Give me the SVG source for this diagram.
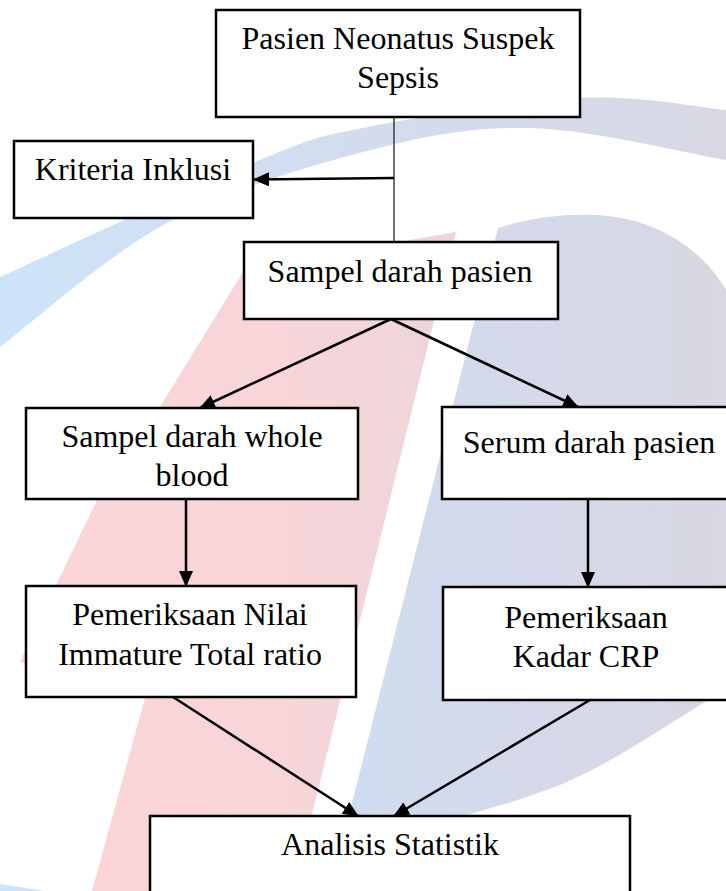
<svg xmlns="http://www.w3.org/2000/svg" width="726" height="891" viewBox="0 0 726 891">
  <defs>
    <linearGradient id="gArc" gradientUnits="userSpaceOnUse" x1="0" y1="0" x2="726" y2="0">
      <stop offset="0" stop-color="#cde4f8"/>
      <stop offset="0.5" stop-color="#d3dcef"/>
      <stop offset="1" stop-color="#d8d8e4"/>
    </linearGradient>
    <linearGradient id="gPink" gradientUnits="userSpaceOnUse" x1="20" y1="0" x2="456" y2="0">
      <stop offset="0" stop-color="#fcd6d8"/>
      <stop offset="0.6" stop-color="#f7d5d8"/>
      <stop offset="1" stop-color="#edd5da"/>
    </linearGradient>
    <linearGradient id="gGrey" gradientUnits="userSpaceOnUse" x1="350" y1="0" x2="726" y2="0">
      <stop offset="0" stop-color="#cfdcf0"/>
      <stop offset="0.5" stop-color="#d5d9e9"/>
      <stop offset="1" stop-color="#d8d7e3"/>
    </linearGradient>
    <marker id="arrow" markerUnits="userSpaceOnUse" markerWidth="16" markerHeight="14" refX="15" refY="7" orient="auto">
      <path d="M0,0 L16,7 L0,14 z" fill="#000"/>
    </marker>
    <style>
      .box { fill: #ffffff; stroke: #000000; stroke-width: 2.5; }
      text { font-family: "Liberation Serif", "DejaVu Serif", serif; font-size: 32px; fill: #000000; text-anchor: middle; }
      .conn { stroke: #000000; stroke-width: 2.5; fill: none; }
      .thin { stroke: #333333; stroke-width: 1.4; fill: none; }
    </style>
  </defs>

  <rect x="0" y="0" width="726" height="891" fill="#ffffff"/>

  <g id="watermark">
    <path d="M0,277 C42,258 192.5,187.8 253,163 C313.5,138.2 308.5,138.8 363,128 C417.5,117.2 519.5,101 580,98 C640.5,95 701.7,108 726,110 L726,160 C693.3,154.7 590.5,129.3 530,128 C469.5,126.7 423.5,136.2 363,152 C302.5,167.8 227.5,190.5 167,223 C106.5,255.5 27.8,326.3 0,347 Z" fill="url(#gArc)"/>
    <path d="M0,884 L45,891 L0,891 Z" fill="#cde4f8"/>
    <path d="M250,268 L456,232 L293,891 L92,891 L145,698 L20,662 L57,583 L97,500 L160,407 L243,272 Z" fill="url(#gPink)"/>
    <path d="M498,228 C530,218 560,214 595,215 C650,217 700,245 726,290 L726,690 C680,715 620,760 560,785 C500,808 440,822 340,850 Z" fill="url(#gGrey)"/>
  </g>

  <g id="connectors">
    <line class="thin" x1="394" y1="117" x2="394" y2="242"/>
    <line class="conn" x1="394" y1="178" x2="254" y2="179.5" marker-end="url(#arrow)"/>
    <line class="conn" x1="391" y1="319" x2="200" y2="408" marker-end="url(#arrow)"/>
    <line class="conn" x1="391" y1="319" x2="578" y2="407" marker-end="url(#arrow)"/>
    <line class="conn" x1="186" y1="499" x2="186" y2="586" marker-end="url(#arrow)"/>
    <line class="conn" x1="588" y1="499" x2="588" y2="587" marker-end="url(#arrow)"/>
    <line class="conn" x1="173" y1="697" x2="358" y2="816" marker-end="url(#arrow)"/>
    <line class="conn" x1="590" y1="700" x2="394" y2="816" marker-end="url(#arrow)"/>
  </g>

  <g id="node-pasien">
    <rect class="box" x="216" y="10" width="364" height="107"/>
    <text x="398" y="49">Pasien Neonatus Suspek</text>
    <text x="398" y="88">Sepsis</text>
  </g>

  <g id="node-kriteria">
    <rect class="box" x="14" y="141" width="239" height="77"/>
    <text x="133" y="180">Kriteria Inklusi</text>
  </g>

  <g id="node-sampel">
    <rect class="box" x="244" y="242" width="314" height="77"/>
    <text x="400" y="282">Sampel darah pasien</text>
  </g>

  <g id="node-wholeblood">
    <rect class="box" x="26" y="408" width="332" height="91"/>
    <text x="192" y="447">Sampel darah whole</text>
    <text x="192" y="486">blood</text>
  </g>

  <g id="node-serum">
    <rect class="box" x="442" y="407" width="300" height="92"/>
    <text x="589" y="453">Serum darah pasien</text>
  </g>

  <g id="node-itratio">
    <rect class="box" x="26" y="586" width="330" height="111"/>
    <text x="190" y="625">Pemeriksaan Nilai</text>
    <text x="190" y="665">Immature Total ratio</text>
  </g>

  <g id="node-crp">
    <rect class="box" x="443" y="587" width="300" height="113"/>
    <text x="586" y="628">Pemeriksaan</text>
    <text x="586" y="667">Kadar CRP</text>
  </g>

  <g id="node-analisis">
    <rect class="box" x="150" y="816" width="480" height="100"/>
    <text x="390" y="855">Analisis Statistik</text>
  </g>
</svg>
